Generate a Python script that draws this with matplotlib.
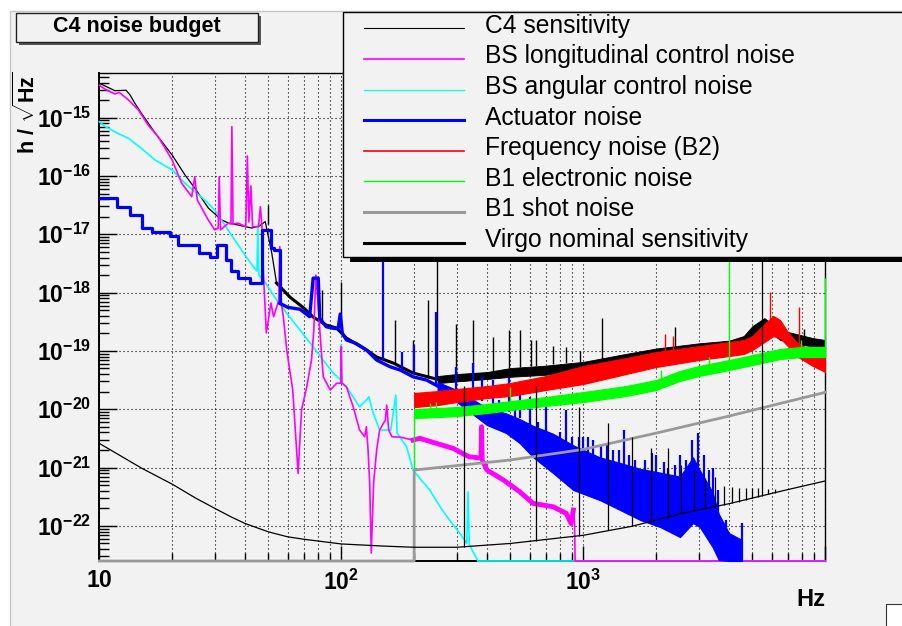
import numpy as np
import matplotlib
matplotlib.use("Agg")
import matplotlib.pyplot as plt
from matplotlib.patches import Rectangle
from matplotlib.lines import Line2D
from matplotlib.ticker import FixedLocator, FixedFormatter, LogLocator, NullFormatter

W, H = 902, 626
BG = "#f2f2f2"
FLOOR = 2.5e-23
TOP = 5.9e-15

# ---- C4 sensitivity (black) ----
c4_freq = [10, 11.6, 12.9, 13.4, 14.0, 14.9, 17.0, 20.0, 22.6, 24.8,
           28.2, 32.0, 34.2, 37.5, 42.6, 46.0, 48.5, 51.6, 54.0, 61.3,
           70.0, 76.5, 86.6, 95.6, 105, 127, 140, 164, 198, 256]
c4_asd = [3.9e-15, 2.9e-15, 2.95e-15, 2.45e-15, 1.79e-15, 1.2e-15, 5.47e-16, 2.29e-16, 1.04e-16, 6.22e-17,
          2.83e-17, 1.76e-17, 1.56e-17, 1.44e-17, 1.28e-17, 1.4e-17, 1.65e-17, 4.78e-18, 1.46e-18, 8.4e-19,
          5.44e-19, 3.81e-19, 2.78e-19, 2.47e-19, 1.66e-19, 1.04e-19, 7.87e-20, 6.2e-20, 4.18e-20, 3.17e-20]
c4_band_freq = [250, 300, 400, 500, 700, 1000, 1500, 2000, 3000, 4000, 4600, 5000, 5600, 6500, 7600, 8900, 10000]
c4_band_hi = [3.71e-20, 4.02e-20, 4.35e-20, 5.09e-20, 5.6e-20, 6.5e-20, 8.9e-20, 1.1e-19, 1.35e-19,
              1.5e-19, 1.8e-19, 2.67e-19, 3.66e-19, 2.28e-19, 1.95e-19, 1.66e-19, 1.54e-19]
c4_band_lo = [2.8e-20, 3.0e-20, 3.3e-20, 3.6e-20, 3.9e-20, 4.6e-20, 6.5e-20, 8.0e-20, 1.0e-19,
              1.1e-19, 1.3e-19, 1.8e-19, 2.5e-19, 1.55e-19, 1.3e-19, 1.2e-19, 1.12e-19]
c4_spike_freq = [50, 83, 100, 167, 198, 229, 248, 298, 349, 422, 495, 546, 606, 640, 748, 845, 968, 1200, 2400, 8200]
c4_spike_base = [1.5e-17, 3.0e-19, 2.4e-19, 6.0e-20, 4.2e-20, 3.5e-20, 3.3e-20, 3.8e-20, 4.0e-20, 4.5e-20,
                 5.0e-20, 5.3e-20, 5.5e-20, 5.6e-20, 6.0e-20, 6.2e-20, 6.4e-20, 7.0e-20, 1.1e-19, 1.6e-19]
c4_spike_top = [3.2e-17, 1.1e-18, 1.5e-18, 3.4e-19, 1.54e-19, 7.4e-19, 6.0e-18, 2.95e-19, 3.4e-19, 1.7e-19,
                2.3e-19, 2.28e-19, 1.56e-19, 1.56e-19, 1.2e-19, 1.18e-19, 1.0e-19, 3.6e-19, 2.6e-19, 2.4e-19]

# ---- BS longitudinal control noise (magenta) ----
bsl_freq = [10.0, 10.6, 11.6, 12.1, 13.2, 14.5, 15.9, 17.5, 20.0, 21.9,
            24.1, 24.8, 25.4, 28.2, 30.0, 31.0, 31.3, 31.7, 34.1, 35.0,
            35.3, 35.7, 37.5, 40.3, 40.9, 41.5, 42.3, 43.0, 45.5, 46.3,
            47.0, 47.7, 49.0, 51.2, 52.5, 55.2, 55.7, 56.3, 57.6, 59.5,
            63.0, 66.3, 68.5, 72.0, 75.3, 77.0, 78.5, 80.0, 81.5, 84.2,
            90.0, 95.6, 99.5, 100.0, 100.5, 105, 112, 119, 125, 127,
            129, 131, 133, 136, 140, 144, 152, 154, 157, 162,
            175, 198, 211, 290, 337, 378, 380, 382, 400, 468,
            546, 620, 750, 850, 890, 910, 920, 925, 10000]
bsl_asd = [3.6e-15, 3.05e-15, 2.55e-15, 2.7e-15, 2.01e-15, 1.36e-15, 7.5e-16, 4.72e-16, 1.88e-16, 7.5e-17,
           4.42e-17, 9.73e-17, 3.88e-17, 1.76e-17, 1.19e-17, 1.28e-17, 9.73e-17, 1.19e-17, 1.55e-17, 1.5e-17,
           7.01e-16, 1.5e-17, 1.55e-17, 1.35e-17, 2.2e-16, 1.63e-17, 6.73e-17, 1.35e-17, 1.35e-17, 2.97e-17,
           1.35e-17, 2.0e-18, 2.03e-19, 6.63e-19, 3.86e-19, 7.46e-19, 6.12e-18, 7.46e-19, 3.86e-19, 1.04e-19,
           2.14e-20, 7.96e-22, 9.69e-21, 2.43e-20, 6.98e-20, 2.28e-19, 2.0e-18, 7.46e-19, 2.28e-19, 3.6e-20,
           2.14e-20, 2.78e-20, 2.8e-20, 1.18e-19, 2.8e-20, 2.43e-20, 1.1e-20, 4.4e-21, 3.37e-21, 5.01e-21,
           2.0e-21, 5.42e-22, 3.42e-23, 5.42e-22, 2.0e-21, 4.4e-21, 6.53e-21, 1.18e-20, 4.4e-21, 3.37e-21,
           3.33e-21, 2.96e-21, 3.17e-21, 2.13e-21, 1.53e-21, 1.46e-21, 5.01e-21, 1.35e-21, 9.06e-22, 6.11e-22,
           3.85e-22, 2.43e-22, 2.13e-22, 1.64e-22, 1.1e-22, 1.87e-22, 1.12e-22, 2.5e-23, 2.5e-23]

# ---- BS angular control noise (cyan) ----
ang_freq = [10, 10.6, 11.9, 13.2, 14.9, 17.0, 20.0, 22.6, 24.8, 27.3,
            30.0, 34.0, 37.5, 41.3, 44.8, 45.2, 45.6, 47.7, 54.1, 59.5,
            67.5, 76.5, 84.0, 92.8, 99.5, 100.0, 100.5, 105, 119, 127,
            130, 135, 144, 160, 168, 170, 186, 198, 211, 232,
            256, 280, 309, 330, 334, 338, 353, 367, 10000]
ang_asd = [8.54e-16, 7.01e-16, 5.4e-16, 4.43e-16, 2.99e-16, 1.88e-16, 1.27e-16, 7.5e-17, 5.38e-17, 3.88e-17,
           2.61e-17, 1.19e-17, 6.55e-18, 3.62e-18, 2.34e-18, 1.44e-17, 2.0e-18, 1.64e-18, 7.46e-19, 4.42e-19,
           2.28e-19, 1.18e-19, 6.98e-20, 4.13e-20, 3.17e-20, 1.26e-19, 2.93e-20, 2.43e-20, 1.1e-20, 1.44e-20,
           1.64e-20, 8.95e-21, 4.4e-21, 4.4e-21, 1.75e-20, 3.91e-21, 2.28e-21, 9.06e-22, 6.53e-22, 4.11e-22,
           2.13e-22, 1.26e-22, 7.43e-23, 5.01e-23, 3.85e-22, 4.8e-23, 3.38e-23, 2.5e-23, 2.5e-23]

# ---- Actuator noise (blue) ----
blue_step_freq = [10.0, 11.8, 13.4, 15.0, 16.5, 19.6, 21.2, 25.8, 28.6, 30.5, 33.4, 34.9, 37.5, 42.0,
                  47.1, 51.0, 52.5, 55.7]
blue_step_asd = [4.14e-17, 2.97e-17, 2.14e-17, 1.27e-17, 1.11e-17, 9.47e-18, 6.55e-18, 4.83e-18, 4.13e-18,
                 6.55e-18, 3.62e-18, 2.38e-18, 1.76e-18, 1.46e-18, 1.19e-17, 5.75e-18, 5.38e-18, 6.56e-19]
blue_line_freq = [55.7, 60, 67.5, 74, 76.5, 80.3, 81.5, 86.6, 93, 97, 99, 101, 105, 115, 127, 140, 159,
                  175, 198, 225, 250]
blue_line_asd = [6.56e-19, 5.6e-19, 5.18e-19, 3.86e-19, 1.77e-18, 1.77e-18, 3.62e-19, 2.6e-19, 2.44e-19,
                 2.4e-19, 4.3e-19, 2.0e-19, 1.54e-19, 1.35e-19, 1.04e-19, 6.98e-20, 5.36e-20, 4.71e-20,
                 3.6e-20, 3.17e-20, 2.5e-20]
blue_band_freq = [250, 300, 400, 480, 546, 620, 750, 910, 1170, 1420, 1720, 2080, 2510, 2840, 3030, 3420,
                  3630, 4000, 4530]
blue_band_hi = [2.93e-20, 2.14e-20, 1.05e-20, 8.5e-21, 6.8e-21, 5.2e-21, 3.8e-21, 2.4e-21, 1.5e-21,
                1.2e-21, 9.5e-22, 8.2e-22, 7.0e-22, 1.5e-21, 9.0e-22, 3.8e-22, 1.6e-22, 7.53e-23, 5.71e-23]
blue_band_lo = [1.97e-20, 1.33e-20, 5.36e-21, 3.91e-21, 2.63e-21, 1.51e-21, 8.05e-22, 4.11e-22, 2.77e-22,
                1.87e-22, 1.26e-22, 9.54e-23, 6.43e-23, 1.12e-22, 9.54e-23, 4.34e-23, 2.6e-23, 2.5e-23, 2.5e-23]
blue_spike_freq = [149, 178, 200, 247, 298, 349, 380, 422, 450, 495, 520, 546, 600, 650, 700, 800, 845, 900,
                   960, 1000, 1050, 1100, 1180, 1250, 1330, 1400, 1470, 1550, 1640, 1800, 1920, 2000, 2150,
                   2240, 2400, 2510, 2650, 2800, 2980, 3150, 3300, 3420, 3600, 3880, 4530]
blue_spike_base = [7.0e-20, 4.7e-20, 4.0e-20, 2.7e-20, 2.0e-20, 1.6e-20, 1.4e-20, 1.2e-20, 1.0e-20, 9.0e-21,
                   7.5e-21, 7.0e-21, 5.5e-21, 4.5e-21, 3.5e-21, 2.5e-21, 2.2e-21, 1.8e-21, 1.5e-21, 1.3e-21,
                   1.2e-21, 1.1e-21, 9.5e-22, 9.0e-22, 8.5e-22, 8.0e-22, 7.5e-22, 7.0e-22, 6.5e-22, 6.0e-22,
                   5.5e-22, 5.5e-22, 5.3e-22, 5.2e-22, 5.0e-22, 4.8e-22, 6.0e-22, 9.0e-22, 6.0e-22, 6.0e-22,
                   4.0e-22, 3.0e-22, 1.8e-22, 7.0e-23, 5.7e-23]
blue_spike_top = [5.4e-18, 9.7e-20, 1.26e-19, 4.7e-19, 5.4e-20, 6.1e-20, 3.6e-20, 3.2e-20, 1.44e-20, 3.6e-20,
                  1.2e-20, 2.1e-20, 1.6e-20, 6.0e-21, 1.1e-20, 4.1e-21, 9.7e-21, 3.37e-21, 3.4e-21, 3.37e-21,
                  3.3e-21, 2.96e-21, 2.3e-21, 2.43e-21, 2.0e-21, 2.0e-21, 4.4e-21, 1.64e-21, 1.35e-21, 1.35e-21,
                  1.77e-21, 1.64e-21, 1.25e-21, 1.0e-21, 1.1e-21, 1.64e-21, 1.35e-21, 2.96e-21, 3.9e-21, 1.64e-21,
                  9.0e-22, 9.7e-22, 4.1e-22, 1.26e-22, 1.12e-22]

# ---- Frequency noise (B2) (red) ----
red_freq = [200, 250, 300, 400, 500, 700, 1000, 1500, 2000, 3000, 4000, 4600, 5000, 5600, 6100, 6500,
            7000, 7600, 8900, 10000]
red_hi = [1.9e-20, 2.05e-20, 2.22e-20, 2.5e-20, 2.82e-20, 3.71e-20, 5.51e-20, 7.55e-20, 9.57e-20, 1.21e-19,
          1.42e-19, 1.54e-19, 1.8e-19, 2.89e-19, 3.97e-19, 3.39e-19, 2.11e-19, 1.42e-19, 9.57e-20, 8.18e-20]
red_lo = [1.09e-20, 1.18e-20, 1.33e-20, 1.56e-20, 1.69e-20, 2.14e-20, 2.71e-20, 4.02e-20, 5.3e-20, 6.98e-20,
          8.18e-20, 8.85e-20, 1.04e-19, 1.42e-19, 1.8e-19, 1.66e-19, 1.21e-19, 8.18e-20, 5.51e-20, 4.35e-20]
red_spike_freq = [2170, 2350, 5900, 7800]
red_spike_base = [9.0e-20, 9.5e-20, 3.5e-19, 1.2e-19]
red_spike_top = [1.95e-19, 1.8e-19, 1.02e-18, 5.66e-19]

# ---- B1 electronic noise (green) ----
green_freq = [200, 250, 300, 400, 500, 700, 1000, 1500, 2000, 2500, 3000, 4000, 5000, 6500, 8000, 10000]
green_hi = [1.01e-20, 1.05e-20, 1.09e-20, 1.23e-20, 1.38e-20, 1.62e-20, 1.97e-20, 2.5e-20, 3.17e-20,
            4.52e-20, 5.51e-20, 6.98e-20, 8.51e-20, 1.08e-19, 1.17e-19, 1.17e-19]
green_lo = [7.06e-21, 7.35e-21, 7.64e-21, 8.61e-21, 9.69e-21, 1.14e-20, 1.33e-20, 1.69e-20, 2.14e-20,
            3.05e-20, 3.71e-20, 4.71e-20, 5.73e-20, 7.26e-20, 7.86e-20, 7.86e-20]
green_spike_freq = [200, 232, 247, 500, 2100, 3300, 4000, 7900, 10000]
green_spike_base = [9.06e-22, 1.0e-20, 1.0e-20, 1.3e-20, 2.5e-20, 4.0e-20, 4.6e-20, 8.0e-20, 8.0e-20]
green_spike_top = [8.3e-21, 1.3e-20, 1.33e-20, 2.43e-20, 4.7e-20, 7.9e-20, 4.0e-18, 1.54e-19, 1.8e-18]

# ---- B1 shot noise (grey) ----
shot_freq = [10, 200, 200, 500, 1000, 2000, 4000, 10000]
shot_asd = [2.5e-23, 2.5e-23, 9.06e-22, 1.35e-21, 2.05e-21, 3.9e-21, 7.64e-21, 1.95e-20]

# ---- Virgo nominal sensitivity (black) ----
virgo_freq = [10, 15, 20, 25, 30, 35, 40, 50, 60, 70, 100, 150, 200, 300, 500, 1000, 1600, 2500, 4000,
              6500, 10000]
virgo_asd = [2.6e-21, 9.7e-22, 5.2e-22, 3.0e-22, 2.0e-22, 1.43e-22, 1.1e-22, 7.9e-23, 6.5e-23, 5.9e-23,
             4.9e-23, 4.5e-23, 4.3e-23, 4.3e-23, 5.0e-23, 6.9e-23, 9.9e-23, 1.6e-22, 2.4e-22, 3.9e-22, 5.9e-22]
virgo_spike_freq = [321, 638, 964, 1270, 1590, 1900, 2230, 2540, 2860, 3180, 3500, 3810, 4100, 4400, 4700,
                    5000, 5250, 5500, 5800, 6200]
virgo_spike_base = [4.3e-23, 5.5e-23, 6.8e-23, 8.5e-23, 9.9e-23, 1.15e-22, 1.35e-22, 1.6e-22, 1.8e-22,
                    2.0e-22, 2.15e-22, 2.3e-22, 2.45e-22, 2.6e-22, 2.8e-22, 3.0e-22, 3.1e-22, 3.2e-22,
                    3.5e-22, 3.7e-22]
virgo_spike_top = [2.5e-20, 2.5e-20, 1.1e-20, 5.8e-21, 3.4e-21, 2.2e-21, 2.2e-21, 1.1e-21, 9.0e-22, 6.5e-22,
                   7.0e-22, 4.8e-22, 4.6e-22, 4.5e-22, 4.4e-22, 4.4e-22, 4.5e-22, 1.1e-17, 4.3e-22, 4.3e-22]

x_tick_values = [10, 100, 1000, 10000]
x_tick_labels = [r"$\mathbf{10}$", r"$\mathbf{10^{2}}$", r"$\mathbf{10^{3}}$", ""]
y_tick_exps = [-22, -21, -20, -19, -18, -17, -16, -15]

legend_labels = ["C4 sensitivity", "BS longitudinal control noise", "BS angular control noise",
                 "Actuator noise", "Frequency noise (B2)", "B1 electronic noise", "B1 shot noise",
                 "Virgo nominal sensitivity"]
legend_colors = ["black", "#ff00ff", "#00ffff", "#0000ff", "#ff0000", "#00ff00", "#999999", "black"]
legend_widths = [0.8, 1.2, 0.9, 2.2, 1.2, 1.0, 2.2, 2.2]


def fx(px):
    return px / W


def fy(py):
    return 1 - py / H


def px_rect(x0, y0, x1, y1, **kw):
    return Rectangle((fx(x0), fy(y1)), fx(x1) - fx(x0), fy(y0) - fy(y1),
                     transform=fig.transFigure, **kw)


plt.rcParams["font.family"] = ["Liberation Sans", "DejaVu Sans"]
plt.rcParams["mathtext.fontset"] = "custom"
plt.rcParams["mathtext.rm"] = "Liberation Sans"
plt.rcParams["mathtext.bf"] = "Liberation Sans:bold"
plt.rcParams["mathtext.it"] = "Liberation Sans:italic"

fig = plt.figure(figsize=(W / 100, H / 100), dpi=100, facecolor="white")
fig.add_artist(px_rect(10, 11, 905, 630, facecolor=BG, edgecolor="#c8c8c8", lw=1.0, zorder=-10))

ax = fig.add_axes([fx(99.3), fy(561), fx(825.3) - fx(99.3), fy(72.7) - fy(561)])
ax.set_facecolor(BG)
ax.set_xscale("log")
ax.set_yscale("log")

MAG, CYA, BLU, RED, GRN, GRY = "#ff00ff", "#00ffff", "#0000ff", "#ff0000", "#00ff00", "#999999"

# C4 sensitivity
c4f = np.array(c4_freq)
c4a = np.array(c4_asd)
ax.plot(c4f, c4a, color="black", lw=0.9, zorder=3)
ax.plot(c4f[c4f >= 54], c4a[c4f >= 54], color="black", lw=2.2, zorder=3)
ax.fill_between(c4_band_freq, c4_band_lo, c4_band_hi, color="black", lw=0.6, zorder=3)
ax.vlines(c4_spike_freq, c4_spike_base, c4_spike_top, color="black", lw=1.0, zorder=3)

# BS angular
ax.plot(ang_freq, ang_asd, color=CYA, lw=1.2, zorder=4, clip_on=False)

# BS longitudinal
bf = np.array(bsl_freq)
ba = np.array(bsl_asd)
ax.plot(bf, ba, color=MAG, lw=1.2, zorder=5, clip_on=False)
sel = (bf >= 198) & (bf <= 915)
ax.plot(bf[sel], ba[sel], color=MAG, lw=3.5, zorder=5)

# Actuator
ax.step(blue_step_freq, blue_step_asd, where="post", color=BLU, lw=2.3, zorder=6)
ax.plot(blue_line_freq, blue_line_asd, color=BLU, lw=2.4, zorder=6)
ax.fill_between(blue_band_freq, blue_band_lo, blue_band_hi, color=BLU, lw=0.8, zorder=6, clip_on=False)
ax.vlines(blue_spike_freq, blue_spike_base, blue_spike_top, color=BLU, lw=1.6, zorder=6)

# Frequency noise
ax.fill_between(red_freq, red_lo, red_hi, color=RED, lw=0.8, zorder=7)
ax.vlines(red_spike_freq, red_spike_base, red_spike_top, color=RED, lw=1.0, zorder=7)

# B1 electronic
ax.fill_between(green_freq, green_lo, green_hi, color=GRN, lw=0.8, zorder=8)
ax.vlines(green_spike_freq, green_spike_base, green_spike_top, color=GRN, lw=1.0, zorder=8, clip_on=False)

# B1 shot noise
ax.plot(shot_freq, shot_asd, color=GRY, lw=2.0, zorder=9, clip_on=False)

# Virgo nominal
ax.plot(virgo_freq, virgo_asd, color="black", lw=0.9, zorder=10)
ax.vlines(virgo_spike_freq, virgo_spike_base, virgo_spike_top, color="black", lw=0.9, zorder=10)

ax.set_xlim(10, 1e4)
ax.set_ylim(FLOOR, TOP)

ax.xaxis.set_major_locator(FixedLocator(x_tick_values))
ax.xaxis.set_major_formatter(FixedFormatter(x_tick_labels))
ax.xaxis.set_minor_locator(LogLocator(base=10, subs=np.arange(2, 10), numticks=50))
ax.xaxis.set_minor_formatter(NullFormatter())
ax.yaxis.set_major_locator(FixedLocator([10.0 ** e for e in y_tick_exps]))
ax.yaxis.set_major_formatter(FixedFormatter([r"$\mathbf{10^{%d}}$" % e for e in y_tick_exps]))
ax.yaxis.set_minor_locator(LogLocator(base=10, subs=np.arange(2, 10), numticks=50))
ax.yaxis.set_minor_formatter(NullFormatter())

ax.tick_params(which="both", direction="in", width=1.0, color="black", top=False, right=False)
ax.tick_params(axis="x", which="major", length=10.8, pad=6, labelsize=16.5)
ax.tick_params(axis="x", which="minor", length=5.8)
ax.tick_params(axis="y", which="major", length=13, pad=6, labelsize=16.5)
ax.tick_params(axis="y", which="minor", length=7.2)

dots = (0, (1, 2.6))
ax.grid(True, which="major", axis="y", color="black", lw=0.8, linestyle=dots)
ax.grid(True, which="both", axis="x", color="black", lw=0.8, linestyle=dots)
ax.set_axisbelow(True)
for side in ["top", "right"]:
    ax.spines[side].set_linewidth(1.0)
for side in ["left", "bottom"]:
    ax.spines[side].set_linewidth(1.4)

# axis titles
fig.text(fx(27), fy(72), r"h / $\sqrt{\mathbf{Hz}}$", rotation=90, ha="center", va="top",
         fontsize=15.5, fontweight="bold")
fig.text(fx(825), fy(606), "Hz", ha="right", va="baseline", fontsize=17, fontweight="bold")

# title box
fig.add_artist(px_rect(19, 16, 261, 45, facecolor="#555555", edgecolor="none", zorder=20))
fig.add_artist(px_rect(16, 13, 258, 42, facecolor=BG, edgecolor="#222222", lw=1.0, zorder=21))
fig.text(fx(137), fy(32), "C4 noise budget", ha="center", va="baseline", fontsize=15.5,
         fontweight="bold", zorder=22)

# legend box
fig.add_artist(px_rect(350, 17, 910, 262, facecolor="black", edgecolor="none", zorder=20))
fig.add_artist(px_rect(343, 12, 903, 257, facecolor=BG, edgecolor="black", lw=1.0, zorder=21))
for i, (lab, col, lw) in enumerate(zip(legend_labels, legend_colors, legend_widths)):
    ry = 28.3 + 30.6 * i
    fig.add_artist(Line2D([fx(364), fx(464)], [fy(ry), fy(ry)], transform=fig.transFigure,
                          color=col, lw=lw, zorder=22))
    fig.text(fx(485), fy(ry + 4.5), lab, ha="left", va="baseline", fontsize=17.7, zorder=22)

# small box in the corner
fig.add_artist(px_rect(886, 604, 905, 630, facecolor="white", edgecolor="#333333", lw=0.8, zorder=20))

fig.savefig("out.png", dpi=100, facecolor=fig.get_facecolor())
